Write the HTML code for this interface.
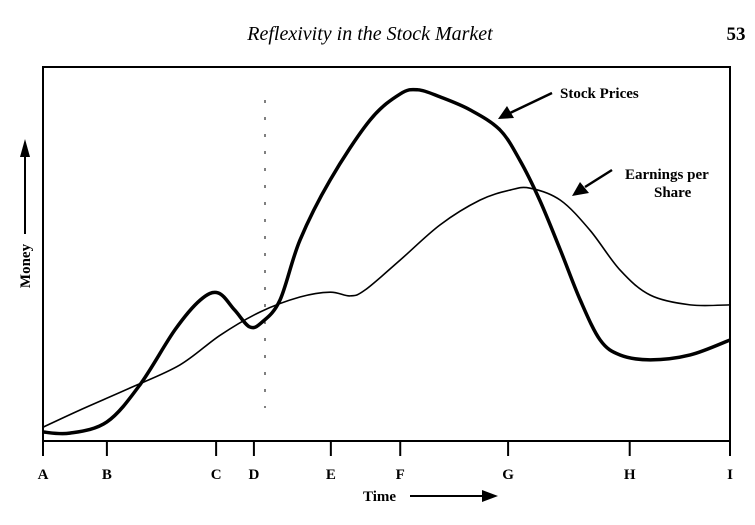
<!DOCTYPE html>
<html><head><meta charset="utf-8"><style>
body{margin:0;background:#fff;}
svg{display:block;font-family:"Liberation Serif",serif;}
</style></head><body>
<svg width="755" height="525" viewBox="0 0 755 525">
<text x="370" y="40" font-size="20" font-style="italic" text-anchor="middle">Reflexivity in the Stock Market</text>
<text x="736" y="40" font-size="19" font-weight="bold" text-anchor="middle">53</text>
<rect x="43" y="67" width="687" height="374" fill="none" stroke="#000" stroke-width="2"/>
<line x1="265" y1="100" x2="265" y2="408" stroke="#000" stroke-width="1" stroke-dasharray="3,14"/>
<g id="xaxis"></g>
<g id="series"></g>
<text x="0" y="0" font-size="15" font-weight="bold" text-anchor="middle" transform="translate(30,266) rotate(-90)">Money</text>
<line x1="25" y1="234" x2="25" y2="152" stroke="#000" stroke-width="2"/>
<polygon points="20,157 30,157 25,139" fill="#000"/>
<text x="363" y="501" font-size="15" font-weight="bold">Time</text>
<line x1="410" y1="496" x2="485" y2="496" stroke="#000" stroke-width="2"/>
<polygon points="482,490 482,502 498,496" fill="#000"/>
<text x="560" y="98" font-size="15" font-weight="bold">Stock Prices</text>
<line x1="552" y1="93" x2="510" y2="113" stroke="#000" stroke-width="2.5"/>
<polygon points="498,119 507,106 514,118" fill="#000"/>
<text x="625" y="179" font-size="15" font-weight="bold">Earnings per</text>
<text x="654" y="197" font-size="15" font-weight="bold">Share</text>
<line x1="612" y1="170" x2="585" y2="187" stroke="#000" stroke-width="2.5"/>
<polygon points="572,196 580,182 589,193" fill="#000"/>
</svg>
<script>
const tickLabels=["A","B","C","D","E","F","G","H","I"];
const tickTimes=[0,9.3,25.2,30.7,41.9,52,67.7,85.4,100];
const stockT=[0,3.9,9.3,14.1,19.2,22.9,25.5,27.9,30.1,31.9,34.5,37.4,41.8,47.6,52,54.6,57.8,62.2,66.5,69.4,72.3,75.3,78.2,81.1,84,88.4,94.2,100];
const stockM=[2.4,2.1,5.1,15,29.7,37.7,39.6,35,30.5,31.8,37.7,53.7,69.8,85.8,92.8,93.9,92,88.5,83.2,75.1,64.4,51.1,37.7,27,23,21.7,23,27];
const epsT=[0,5.4,12.7,19.9,25.8,31.6,37.4,41.8,44.7,46.9,52,57.8,63.6,68,70.9,75.3,79.6,84,88.4,94.2,100];
const epsM=[3.7,8.3,14.2,20.3,28.3,34.5,38.5,39.8,38.8,40.4,48.4,57.8,64.4,67.1,67.6,64.4,56.4,45.7,39,36.4,36.4];
const NS="http://www.w3.org/2000/svg";
function xS(t){return 43+t*6.87;}
function yS(m){return 441-m*3.74;}
function smooth(ts,ms){
  const p=ts.map((t,i)=>[xS(t),yS(ms[i])]);
  let d="M"+p[0][0]+","+p[0][1];
  for(let i=0;i<p.length-1;i++){
    const p0=p[i-1]||p[i],p1=p[i],p2=p[i+1],p3=p[i+2]||p2;
    const c1=[p1[0]+(p2[0]-p0[0])/6,p1[1]+(p2[1]-p0[1])/6];
    const c2=[p2[0]-(p3[0]-p1[0])/6,p2[1]-(p3[1]-p1[1])/6];
    d+=" C"+c1[0]+","+c1[1]+" "+c2[0]+","+c2[1]+" "+p2[0]+","+p2[1];
  }
  return d;
}
const ax=document.getElementById("xaxis");
tickTimes.forEach((t,i)=>{
  const l=document.createElementNS(NS,"line");
  l.setAttribute("x1",xS(t));l.setAttribute("x2",xS(t));
  l.setAttribute("y1",441);l.setAttribute("y2",456);
  l.setAttribute("stroke","#000");l.setAttribute("stroke-width","2");
  
  
  ax.appendChild(l);
  const tx=document.createElementNS(NS,"text");
  tx.setAttribute("x",xS(t));tx.setAttribute("y",479);
  tx.setAttribute("text-anchor","middle");tx.setAttribute("font-size","15");tx.setAttribute("font-weight","bold");
  tx.textContent=tickLabels[i];
  
  
  ax.appendChild(tx);
});
const sg=document.getElementById("series");
const eps=document.createElementNS(NS,"path");
eps.setAttribute("d",smooth(epsT,epsM));
eps.setAttribute("fill","none");eps.setAttribute("stroke","#000");eps.setAttribute("stroke-width","1.6");


sg.appendChild(eps);
const sp=document.createElementNS(NS,"path");
sp.setAttribute("d",smooth(stockT,stockM));
sp.setAttribute("fill","none");sp.setAttribute("stroke","#000");sp.setAttribute("stroke-width","3.5");


sg.appendChild(sp);
</script>
</body></html>
